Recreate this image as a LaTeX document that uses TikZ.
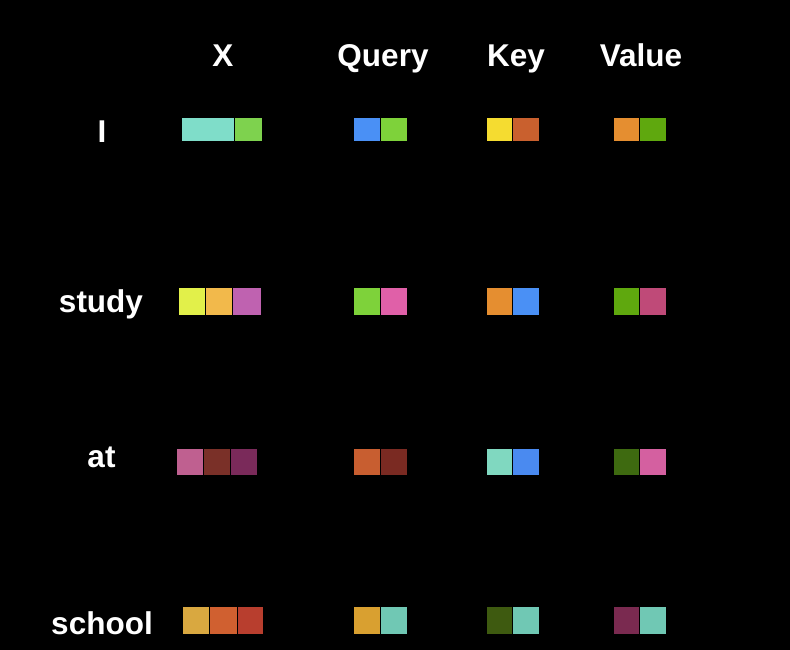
\documentclass[tikz,border=0pt]{standalone}
\usepackage{fontspec}
\setmainfont{Liberation Sans}
\tikzset{
  lbl/.style={text=white, font=\fontsize{31.5}{36}\selectfont\bfseries, anchor=base, inner sep=0pt},
  cellstyle/.style={draw=black, line width=0.8pt}
}
\newcommand{\cellbox}[5]{\filldraw[cellstyle, fill=#5] (#1pt,-#3pt) rectangle (#2pt,-#4pt);}
\definecolor{cTeal}{HTML}{7FDDC9}
\definecolor{cGreenA}{HTML}{7ED24E}
\definecolor{cBlue}{HTML}{4A90F5}
\definecolor{cGreenB}{HTML}{7ED23A}
\definecolor{cYellow}{HTML}{F5DC30}
\definecolor{cRust}{HTML}{C9602E}
\definecolor{cOrange}{HTML}{E58E30}
\definecolor{cGreenC}{HTML}{5FA80E}
\definecolor{cLemon}{HTML}{E2F04A}
\definecolor{cGold}{HTML}{F2B94B}
\definecolor{cOrchid}{HTML}{BF62B0}
\definecolor{cPink}{HTML}{E060A8}
\definecolor{cRose}{HTML}{BF4A78}
\definecolor{cMauve}{HTML}{BF6090}
\definecolor{cBrown}{HTML}{7A3028}
\definecolor{cPlum}{HTML}{7A2A5A}
\definecolor{cRustB}{HTML}{C85E30}
\definecolor{cMaroon}{HTML}{7A2A22}
\definecolor{cMint}{HTML}{80D8C0}
\definecolor{cBlueB}{HTML}{4A8AF0}
\definecolor{cOlive}{HTML}{3E6A10}
\definecolor{cPinkB}{HTML}{D460A0}
\definecolor{cMustard}{HTML}{D9A840}
\definecolor{cOrangeB}{HTML}{D06030}
\definecolor{cRed}{HTML}{B83E2E}
\definecolor{cAmber}{HTML}{D9A030}
\definecolor{cAqua}{HTML}{70C8B4}
\definecolor{cMoss}{HTML}{3E5A10}
\definecolor{cWine}{HTML}{7A2A50}
\begin{document}
\begin{tikzpicture}[x=1pt,y=1pt]
\fill[black] (0,0) rectangle (790,-650);
\useasboundingbox (0,0) rectangle (790,-650);
% headers
\node[lbl] (hX) at (223,-67) {X};
\node[lbl] (hQ) at (383,-67) {Query};
\node[lbl] (hK) at (516,-67) {Key};
\node[lbl] (hV) at (641,-67) {Value};
% row labels
\node[lbl] (rI) at (102,-143) {I};
\node[lbl] (rStudy) at (101,-312) {study};
\node[lbl] (rAt) at (101.5,-467) {at};
\node[lbl] (rSchool) at (102,-634) {school};
% row I
\cellbox{181}{234}{117}{141}{cTeal}
\cellbox{234}{262}{117}{141}{cGreenA}
\cellbox{353}{380}{117}{141}{cBlue}
\cellbox{380}{407}{117}{141}{cGreenB}
\cellbox{486}{512}{117}{141}{cYellow}
\cellbox{512}{539}{117}{141}{cRust}
\cellbox{613}{639}{117}{141}{cOrange}
\cellbox{639}{666}{117}{141}{cGreenC}
% row study
\cellbox{178}{205}{287}{315}{cLemon}
\cellbox{205}{232}{287}{315}{cGold}
\cellbox{232}{261}{287}{315}{cOrchid}
\cellbox{353}{380}{287}{315}{cGreenB}
\cellbox{380}{407}{287}{315}{cPink}
\cellbox{486}{512}{287}{315}{cOrange}
\cellbox{512}{539}{287}{315}{cBlue}
\cellbox{613}{639}{287}{315}{cGreenC}
\cellbox{639}{666}{287}{315}{cRose}
% row at
\cellbox{176}{203}{448}{475}{cMauve}
\cellbox{203}{230}{448}{475}{cBrown}
\cellbox{230}{257}{448}{475}{cPlum}
\cellbox{353}{380}{448}{475}{cRustB}
\cellbox{380}{407}{448}{475}{cMaroon}
\cellbox{486}{512}{448}{475}{cMint}
\cellbox{512}{539}{448}{475}{cBlueB}
\cellbox{613}{639}{448}{475}{cOlive}
\cellbox{639}{666}{448}{475}{cPinkB}
% row school
\cellbox{182}{209}{606}{634}{cMustard}
\cellbox{209}{237}{606}{634}{cOrangeB}
\cellbox{237}{263}{606}{634}{cRed}
\cellbox{353}{380}{606}{634}{cAmber}
\cellbox{380}{407}{606}{634}{cAqua}
\cellbox{486}{512}{606}{634}{cMoss}
\cellbox{512}{539}{606}{634}{cAqua}
\cellbox{613}{639}{606}{634}{cWine}
\cellbox{639}{666}{606}{634}{cAqua}
\end{tikzpicture}
\end{document}
